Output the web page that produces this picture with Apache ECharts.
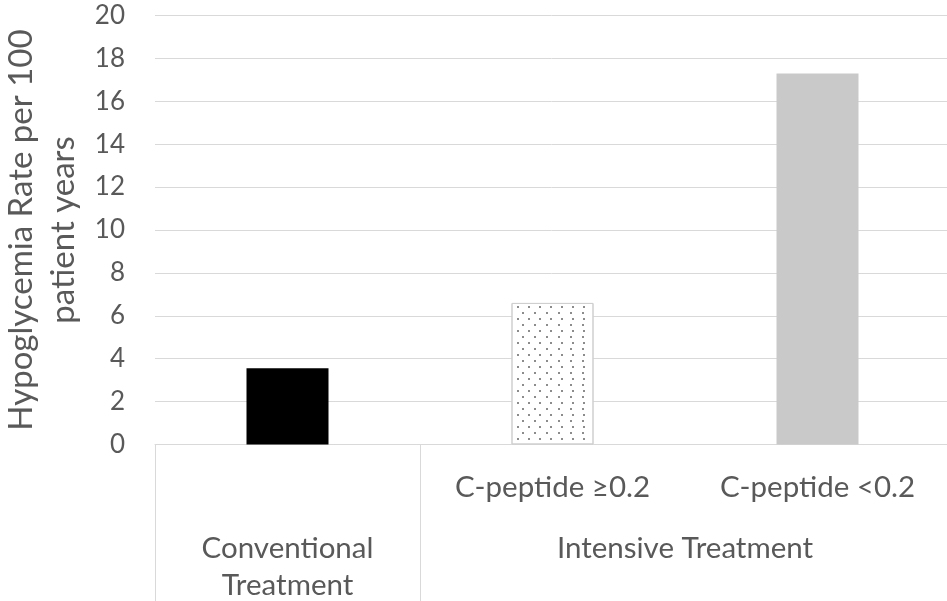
<!DOCTYPE html>
<html>
<head>
<meta charset="utf-8">
<script src="https://cdn.jsdelivr.net/npm/echarts@6/dist/echarts.min.js"></script>
<style>
html,body{margin:0;padding:0;background:#fff;overflow:hidden;}
#chart{width:947px;height:601px;}
</style>
</head>
<body>
<div id="chart"></div>
<script>
// ---- data ----
var subCategories = ['', 'C-peptide \u22650.2', 'C-peptide <0.2'];
var groupLabels = ['Conventional\nTreatment', 'Intensive Treatment'];
var groupLabelPositions = [0.5, 2];     // in category units
var groupSeparators = [0, 1, 3];        // in category units
var rates = [3.55, 6.6, 17.3];
var yTicks = [0, 2, 4, 6, 8, 10, 12, 14, 16, 18, 20];
var yTitle = 'Hypoglycemia Rate per 100\npatient years';

// ---- styles ----
var FONT = 'Lato';
var TXT = '#595959';
var GRID = '#d9d9d9';
var barStyles = [
  { color: '#000000' },
  { color: '#ffffff', borderColor: '#cfcfcf', borderWidth: 1,
    decal: { symbol: 'circle', symbolSize: 1, color: '#666666',
             dashArrayX: [[2, 8.3], [0, 5.15, 2, 3.15]], dashArrayY: [2, 3.3] } },
  { color: '#c9c9c9' }
];

var chart = echarts.init(document.getElementById('chart'), null, { renderer: 'canvas' });
chart.setOption({
  animation: false,
  backgroundColor: '#ffffff',
  grid: { left: 155, top: 15.5, width: 795, height: 429, containLabel: false, outerBoundsMode: 'none' },
  xAxis: [
    {
      type: 'category',
      data: subCategories,
      axisLine: { show: true, lineStyle: { color: GRID, width: 1 } },
      axisTick: { show: false },
      axisLabel: { interval: 0, margin: 28, color: TXT, fontFamily: FONT, fontSize: 29.5 },
      splitLine: { show: false }
    },
    {
      type: 'value',
      min: 0, max: 3, interval: 1,
      position: 'bottom',
      axisLine: { show: false },
      splitLine: { show: false },
      axisTick: { show: true, customValues: groupSeparators, length: 160,
                  lineStyle: { color: GRID, width: 1 } },
      axisLabel: {
        customValues: groupLabelPositions,
        margin: 85, color: TXT, fontFamily: FONT, fontSize: 29.5, lineHeight: 37,
        formatter: function (v) {
          var i = groupLabelPositions.indexOf(v);
          return i >= 0 ? groupLabels[i] : '';
        }
      }
    }
  ],
  yAxis: {
    type: 'value',
    min: yTicks[0], max: yTicks[yTicks.length - 1], interval: yTicks[1] - yTicks[0],
    axisLine: { show: false },
    axisTick: { show: false },
    axisLabel: { margin: 30, color: TXT, fontFamily: FONT, fontSize: 26 },
    splitLine: { lineStyle: { color: GRID, width: 1 } },
    name: yTitle,
    nameLocation: 'middle',
    nameRotate: 90,
    nameGap: 56,
    nameTextStyle: { color: TXT, fontFamily: FONT, fontSize: 33, lineHeight: 42 }
  },
  series: [{
    type: 'bar',
    xAxisIndex: 0,
    barWidth: 82,
    data: rates.map(function (v, i) { return { value: v, itemStyle: barStyles[i] }; })
  }]
});
</script>
</body>
</html>
